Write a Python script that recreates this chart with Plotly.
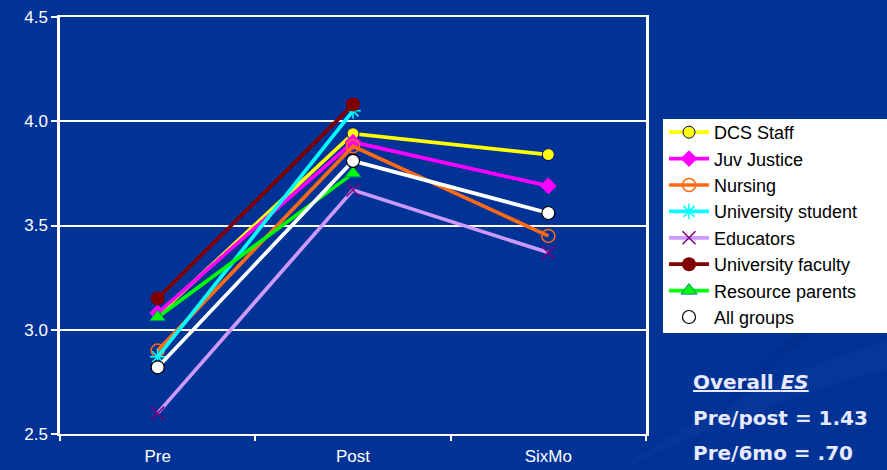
import plotly.graph_objects as go

# Mean scores by group at each time point (None = not measured)
timepoints = ["Pre", "Post", "SixMo"]
dcs_staff = [3.07, 3.94, 3.84]
juv_justice = [3.08, 3.90, 3.69]
nursing = [2.90, 3.88, 3.45]
univ_student = [2.87, 4.05, None]
educators = [2.60, 3.67, 3.37]
univ_faculty = [3.15, 4.08, None]
resource_parents = [3.06, 3.75, None]
all_groups = [2.82, 3.81, 3.56]

y_ticks = [2.5, 3.0, 3.5, 4.0, 4.5]
es_lines = ["Pre/post = 1.43", "Pre/6mo = .70"]

BG = "#013397"

series = [
    ("DCS Staff", dcs_staff, "#ffff00",
     dict(symbol="circle", size=12, color="#ffff00", line=dict(color="#000080", width=1))),
    ("Juv Justice", juv_justice, "#ff00ff",
     dict(symbol="diamond", size=13, color="#ff00ff", line=dict(color="#ff00ff", width=0))),
    ("Nursing", nursing, "#ff6a13",
     dict(symbol="circle-open", size=13, color="#ff6a13", line=dict(color="#ff6a13", width=1.5))),
    ("University student", univ_student, "#00ffff",
     dict(symbol="asterisk-open", size=13, color="#00ffff", line=dict(color="#00ffff", width=1.5))),
    ("Educators", educators, "#cc99ff",
     dict(symbol="x-thin-open", size=13, color="#800080", line=dict(color="#800080", width=1.5))),
    ("University faculty", univ_faculty, "#800000",
     dict(symbol="circle", size=14, color="#800000", line=dict(color="#800000", width=0))),
    ("Resource parents", resource_parents, "#00ff00",
     dict(symbol="triangle-up", size=14, color="#00ff00", line=dict(color="#008080", width=1))),
    ("All groups", all_groups, "#ffffff",
     dict(symbol="circle", size=13, color="#ffffff", line=dict(color="#000000", width=1.2))),
]

fig = go.Figure()
for name, vals, lcolor, mk in series:
    fig.add_trace(go.Scatter(
        x=timepoints, y=vals, name=name, mode="lines+markers",
        line=dict(color=lcolor, width=3.7),
        marker=mk,
    ))

PX_L, PX_R, PX_T, PX_B = 60, 646, 17, 434
pw, ph = PX_R - PX_L, PX_B - PX_T


def px_x(x):
    return (x - PX_L) / pw


def px_y(y):
    return (PX_B - y) / ph


# Faint swooshes in the slide background
swooshes = [
    ("M 0.95 -0.09 Q 1.15 0.05 1.42 0.16 L 1.42 0.23 Q 1.15 0.11 0.95 -0.09 Z", "rgba(255,255,255,0.02)"),
    ("M 1.05 -0.09 Q 1.2 0.2 1.42 0.35 L 1.42 0.39 Q 1.2 0.24 1.05 -0.09 Z", "rgba(0,0,40,0.07)"),
]
shapes = [
    dict(type="path", xref="paper", yref="paper", path=p, fillcolor=c,
         line=dict(width=0), layer="below")
    for p, c in swooshes
]
# White legend panel
shapes.append(dict(
    type="rect", xref="paper", yref="paper",
    x0=px_x(663), x1=px_x(890), y0=px_y(333), y1=px_y(119),
    fillcolor="#ffffff", line=dict(width=0), layer="above",
))

fig.update_layout(
    width=887, height=470,
    margin=dict(l=PX_L, r=887 - PX_R, t=PX_T, b=470 - PX_B, autoexpand=False),
    paper_bgcolor=BG, plot_bgcolor=BG,
    font=dict(family="Liberation Sans, Arial, sans-serif", color="#ffffff", size=17),
    showlegend=True,
    shapes=shapes,
    legend=dict(
        x=px_x(664), y=px_y(114), xanchor="left", yanchor="top",
        bgcolor="rgba(0,0,0,0)", borderwidth=0,
        font=dict(family="Liberation Sans, Arial, sans-serif", color="#000000", size=18),
        tracegroupgap=0, itemwidth=40,
    ),
    xaxis=dict(
        type="category", categoryorder="array", categoryarray=timepoints,
        range=[-0.5, 2.5], showgrid=False, zeroline=False, automargin=False,
        showline=True, linecolor="#ffffff", linewidth=2, mirror=True,
        ticks="outside", tickson="boundaries", ticklen=5, tickwidth=2, tickcolor="#ffffff",
        ticklabelstandoff=6,
        tickfont=dict(size=17, color="#ffffff"),
    ),
    yaxis=dict(
        range=[2.5, 4.5], tickvals=y_ticks, automargin=False,
        ticktext=[f"{v:.1f}" for v in y_ticks],
        showgrid=True, gridcolor="#ffffff", gridwidth=2, zeroline=False,
        showline=True, linecolor="#ffffff", linewidth=2.5, mirror=True,
        ticks="outside", ticklen=6, tickwidth=2, tickcolor="#ffffff",
        tickfont=dict(size=17, color="#ffffff"),
    ),
)

# Effect-size summary, lower right
txt_font = dict(family="DejaVu Sans, Verdana, sans-serif", size=20, color="#e8e8ff")
fig.add_annotation(
    xref="paper", yref="paper", x=px_x(691), y=px_y(382),
    xanchor="left", yanchor="middle", showarrow=False,
    text="<b><u>Overall <i>ES</i></u></b>", font=txt_font,
)
for i, line in enumerate(es_lines):
    fig.add_annotation(
        xref="paper", yref="paper", x=px_x(691), y=px_y(418 + 35 * i),
        xanchor="left", yanchor="middle", showarrow=False,
        text=f"<b>{line}</b>", font=txt_font,
    )

fig.write_html("out.html")
